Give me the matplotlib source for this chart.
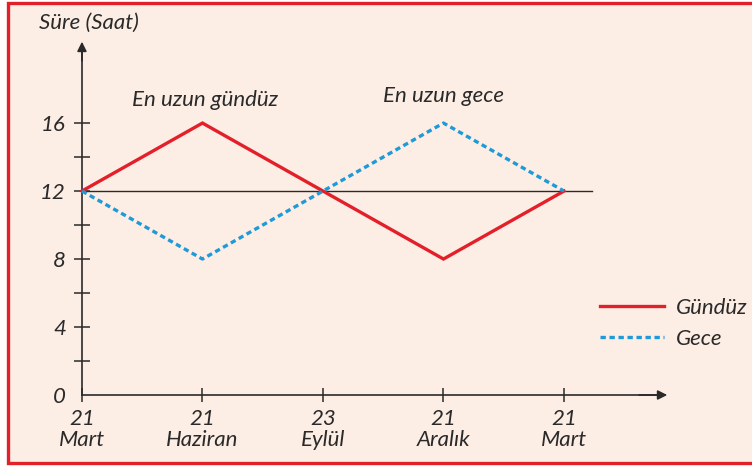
import matplotlib
matplotlib.use('Agg')
import matplotlib.pyplot as plt
from matplotlib.patches import Rectangle

# data
x_pos = [0, 1, 2, 3, 4]
x_labels = ['21\nMart', '21\nHaziran', '23\nEylül', '21\nAralık', '21\nMart']
gunduz = [12, 16, 12, 8, 12]
gece = [12, 8, 12, 16, 12]
y_major = [0, 4, 8, 12, 16]
y_minor = [2, 6, 10, 14]

red = '#e3202a'
blue = '#1f9ad8'
ink = '#2a2a2a'

plt.rcParams['font.family'] = ['Lato', 'DejaVu Sans']
plt.rcParams['font.style'] = 'italic'

fig = plt.figure(figsize=(7.52, 4.69), dpi=100, facecolor='white')

# peach panel with red frame
fig.patches.append(Rectangle((8/752, 6/469), 760/752, 460/469, transform=fig.transFigure,
                             facecolor='#fdeee5', edgecolor=red, lw=2.4, zorder=-5))

ax = fig.add_axes([0, 0, 1, 1])
ax.set_facecolor('none')
ax.set_xlim(-0.680, 5.560)
ax.set_ylim(-4.353, 23.24)

for s in ['top', 'right']:
    ax.spines[s].set_visible(False)
ax.spines['left'].set_position(('data', 0))
ax.spines['bottom'].set_position(('data', 0))
ax.spines['left'].set_bounds(0, 20.5)
ax.spines['bottom'].set_bounds(0, 4.8)
for s in ['left', 'bottom']:
    ax.spines[s].set_color(ink)
    ax.spines[s].set_linewidth(1.2)

# arrow heads
ax.annotate('', xy=(0, 20.95), xytext=(0, 19.5),
            arrowprops=dict(arrowstyle='-|>', color=ink, lw=1.2, mutation_scale=14))
ax.annotate('', xy=(4.88, 0), xytext=(4.6, 0),
            arrowprops=dict(arrowstyle='-|>', color=ink, lw=1.2, mutation_scale=14))

ax.set_xticks(x_pos)
ax.set_xticklabels(x_labels, linespacing=1.12)
ax.set_yticks(y_major)
ax.set_yticks(y_minor, minor=True)
ax.tick_params(axis='x', direction='inout', length=9.5, width=1.1, color=ink,
               labelsize=16, labelcolor=ink, pad=5)
ax.tick_params(axis='y', which='both', direction='inout', length=11, width=1.1, color=ink,
               labelsize=16, labelcolor=ink, pad=6)
ax.yaxis.get_major_ticks()[0].tick1line.set_visible(False)

# reference line at 12
ax.plot([0, 4.23], [12, 12], color=ink, lw=1.0, zorder=2)

ax.plot(x_pos, gunduz, color=red, lw=2.4, label='Gündüz', zorder=3, solid_joinstyle='miter')
ax.plot(x_pos, gece, color=blue, lw=2.4, ls=(0, (1.6, 1.1)), label='Gece', zorder=3)

ax.text(0.06, 21.9, 'Süre (Saat)', ha='center', va='center', fontsize=16, color=ink)
ax.text(1.02, 17.35, 'En uzun gündüz', ha='center', va='center', fontsize=16, color=ink)
ax.text(3.0, 17.6, 'En uzun gece', ha='center', va='center', fontsize=16, color=ink)

ax.legend(loc='center left', bbox_to_anchor=(600/752, 145.5/469), bbox_transform=fig.transFigure,
          frameon=False, fontsize=16, handlelength=2.9, handletextpad=0.5,
          labelspacing=0.5, borderpad=0, borderaxespad=0, labelcolor=ink)

fig.savefig('out.png', dpi=100, facecolor='white')
